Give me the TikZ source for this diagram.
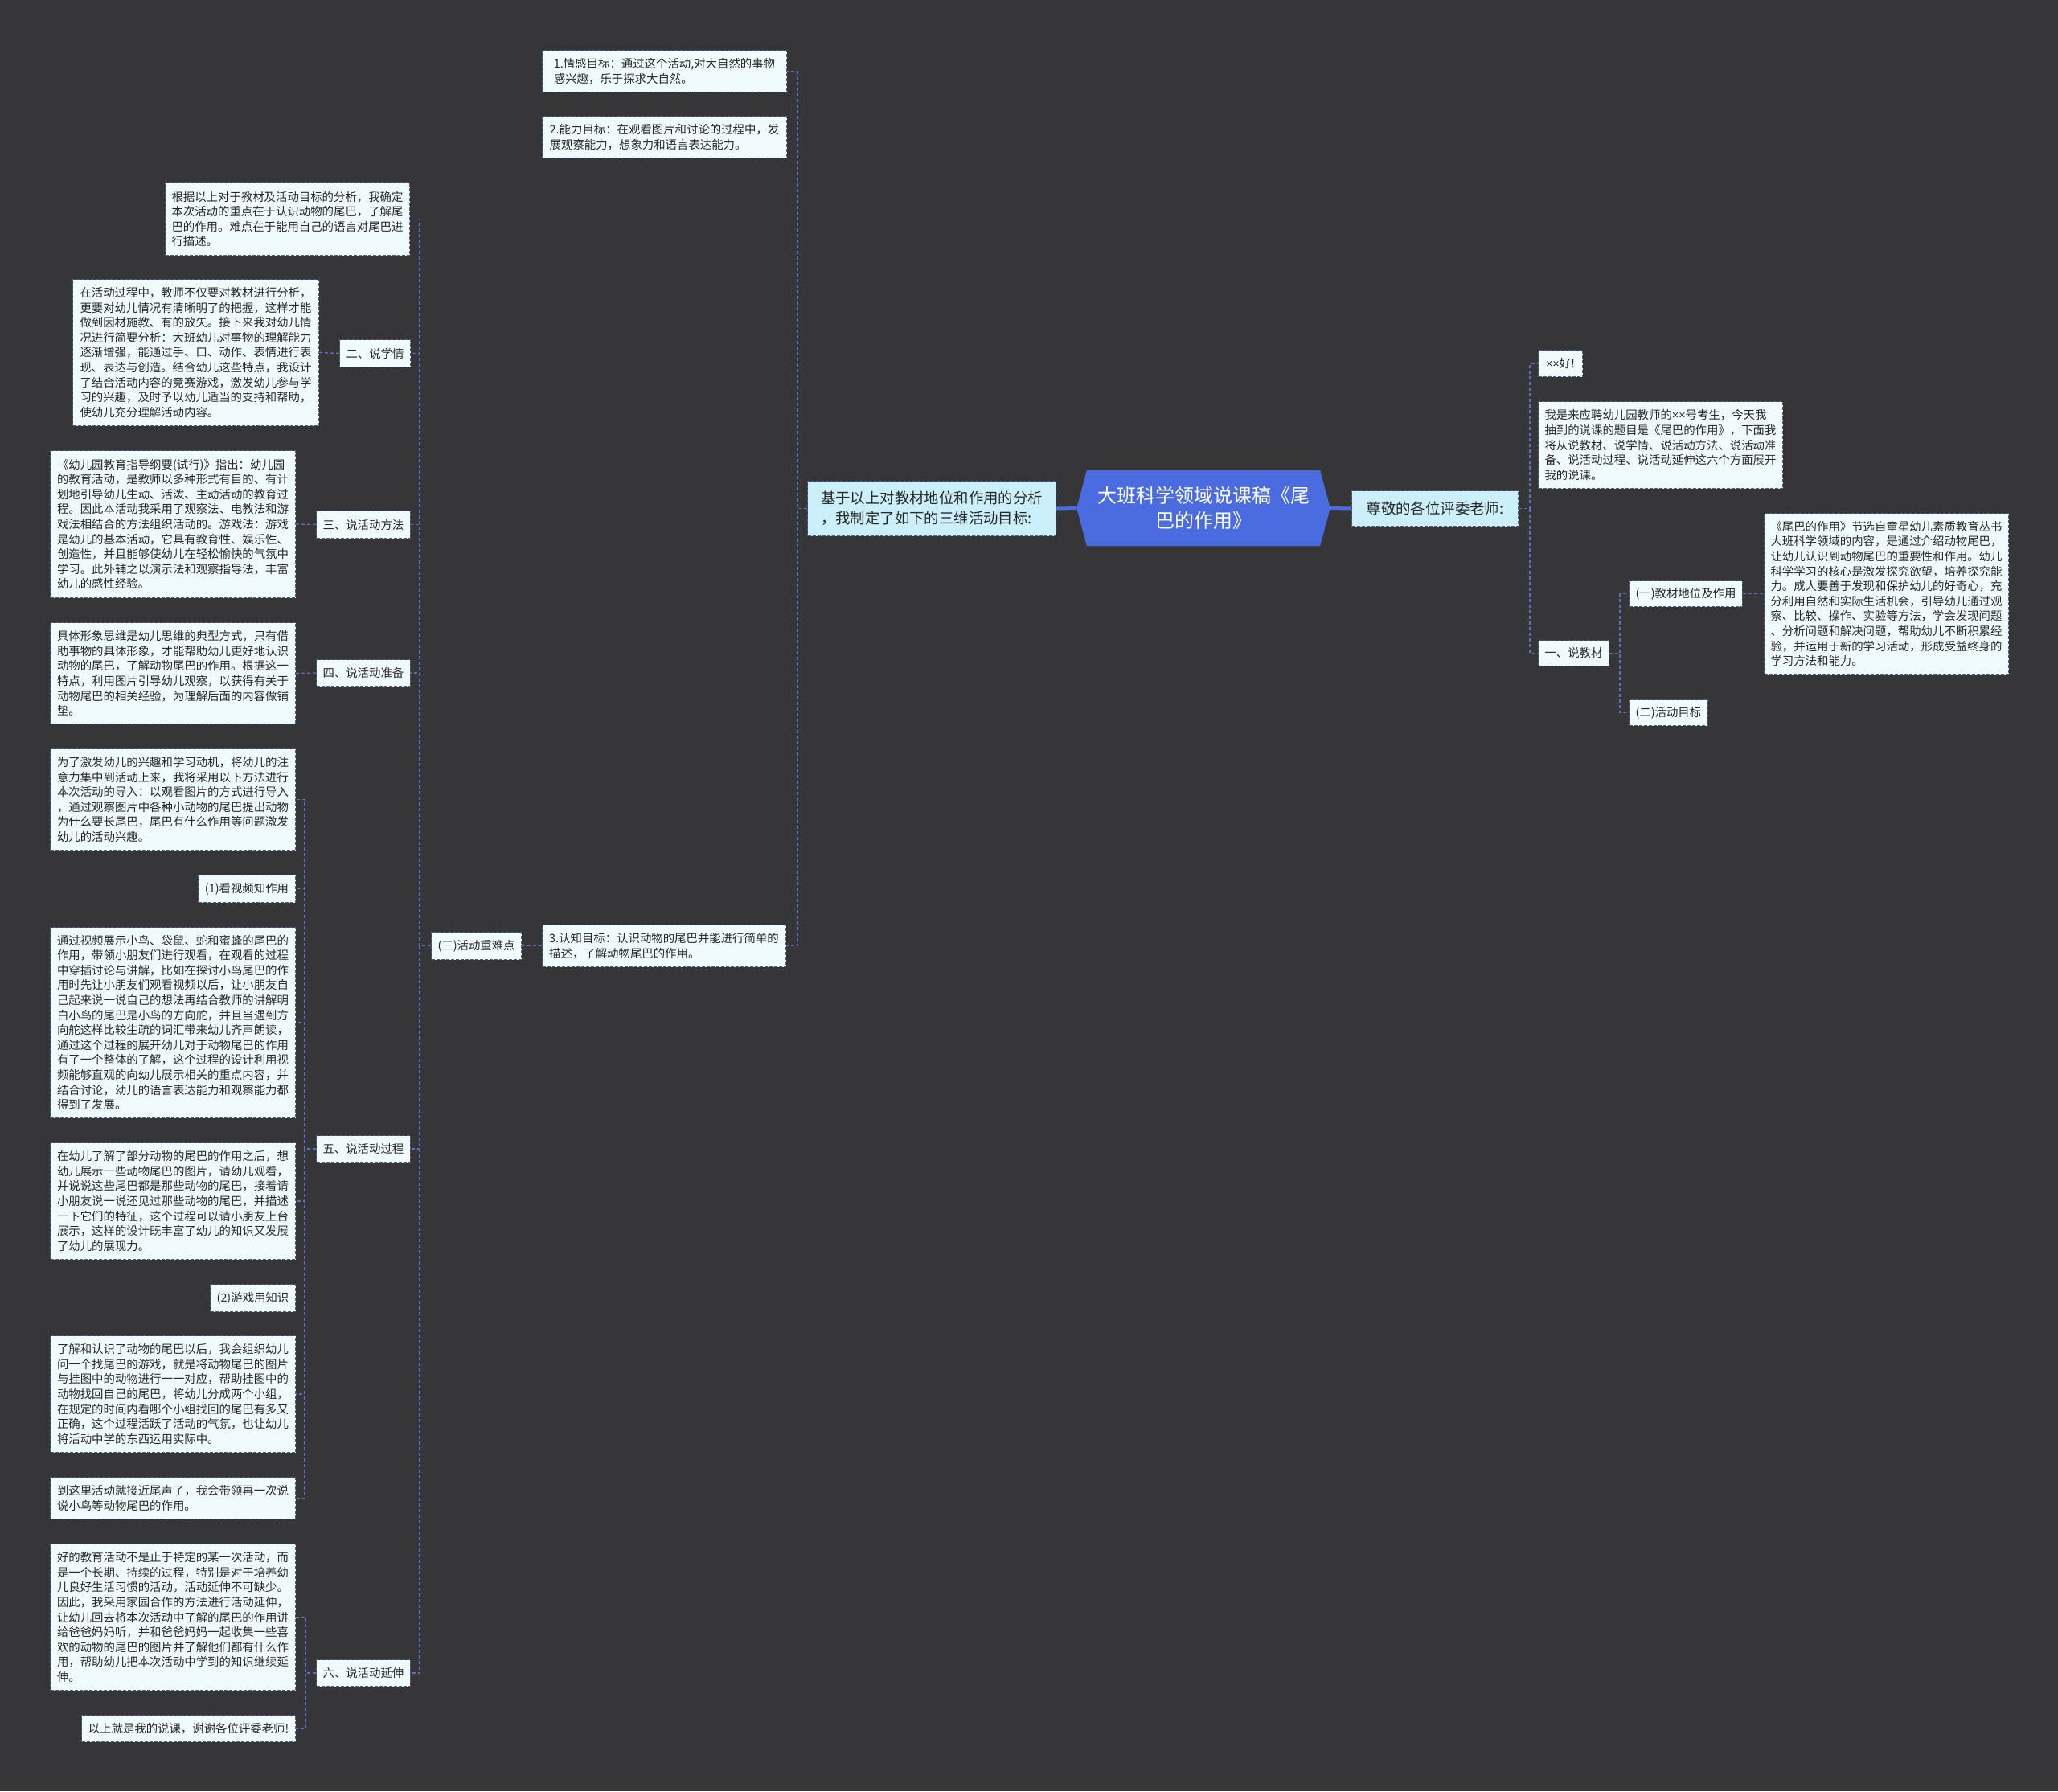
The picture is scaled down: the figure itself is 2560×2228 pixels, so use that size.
\documentclass[tikz,border=0pt]{standalone}
\usepackage{fontspec}
\setmainfont{Noto Sans CJK SC}
\newfontfamily\latinf{Liberation Sans}
\newcommand{\tms}{{\latinf ×}}
\usetikzlibrary{shapes.symbols}
\definecolor{bg}{RGB}{54,54,56}
\definecolor{boxfill}{RGB}{240,251,253}
\definecolor{lvfill}{RGB}{204,240,251}
\definecolor{bordc}{RGB}{80,92,140}
\definecolor{connc}{RGB}{88,112,200}
\definecolor{rootc}{RGB}{74,108,224}
\definecolor{txt}{RGB}{40,40,40}
\tikzset{
  box/.style={draw=bordc, dash pattern=on 4pt off 2pt, line width=1pt, fill=boxfill, text=txt,
    font=\fontsize{14.4}{18.6}\selectfont, inner xsep=8pt, inner ysep=6pt, align=left, anchor=north west},
  lvbox/.style={box, fill=lvfill, font=\fontsize{18.4}{25}\selectfont},
  conn/.style={draw=connc, line width=1.3pt, dash pattern=on 4pt off 3pt},
  rootconn/.style={draw=rootc, line width=4pt},
  sz/.style n args={2}{minimum width=#1, minimum height=#2}
}
\begin{document}
\begin{tikzpicture}[x=1pt,y=-1pt]
\fill[bg] (0,0) rectangle (2560,2228);
\useasboundingbox (0,0) rectangle (2560,2228);

% root
\node[shape=signal, signal to=east and west, signal pointer angle=150, fill=rootc, draw=rootc,
  text=white, font=\fontsize{24}{31}\selectfont, align=center, minimum width=315pt, minimum height=94pt, inner xsep=4pt]
  (root) at (1497,632) {大班科学领域说课稿《尾\\巴的作用》};

% level 1
\node[lvbox, sz={309pt}{68pt}] (jiyu) at (1004,598) {基于以上对教材地位和作用的分析\\，我制定了如下的三维活动目标:};
\node[lvbox, sz={207pt}{44pt}, align=center] (zj) at (1681,610) {尊敬的各位评委老师:};

% right side
\node[box, sz={55pt}{33pt}] (hao) at (1913,435) {\tms\tms 好!};
\node[box, sz={304pt}{108pt}] (woshi) at (1913,499) {我是来应聘幼儿园教师的\tms\tms 号考生，今天我\\抽到的说课的题目是《尾巴的作用》，下面我\\将从说教材、说学情、说活动方法、说活动准\\备、说活动过程、说活动延伸这六个方面展开\\我的说课。};
\node[box, sz={87pt}{32pt}] (jc) at (1913,796) {一、说教材};
\node[box, sz={140pt}{32pt}] (jc1) at (2026,722) {(一)教材地位及作用};
\node[box, sz={304pt}{200pt}] (jc1t) at (2194,638) {《尾巴的作用》节选自童星幼儿素质教育丛书\\大班科学领域的内容，是通过介绍动物尾巴，\\让幼儿认识到动物尾巴的重要性和作用。幼儿\\科学学习的核心是激发探究欲望，培养探究能\\力。成人要善于发现和保护幼儿的好奇心，充\\分利用自然和实际生活机会，引导幼儿通过观\\察、比较、操作、实验等方法，学会发现问题\\、分析问题和解决问题，帮助幼儿不断积累经\\验，并运用于新的学习活动，形成受益终身的\\学习方法和能力。};
\node[box, sz={97pt}{32pt}] (jc2) at (2026,870) {(二)活动目标};

% middle column
\node[box, sz={304pt}{52pt}] (m1) at (674,62) {1.情感目标：通过这个活动,对大自然的事物\\感兴趣，乐于探求大自然。};
\node[box, sz={304pt}{52pt}] (m2) at (674,144) {2.能力目标：在观看图片和讨论的过程中，发\\展观察能力，想象力和语言表达能力。};
\node[box, sz={303pt}{52pt}] (m3) at (674,1150) {3.认知目标：认识动物的尾巴并能进行简单的\\描述，了解动物尾巴的作用。};
\node[box, sz={111pt}{34pt}] (zn) at (536,1159) {(三)活动重难点};

% left column level
\node[box, sz={304pt}{90pt}] (gj) at (205,227) {根据以上对于教材及活动目标的分析，我确定\\本次活动的重点在于认识动物的尾巴，了解尾\\巴的作用。难点在于能用自己的语言对尾巴进\\行描述。};
\node[box, sz={87pt}{34pt}] (xq) at (422,422) {二、说学情};
\node[box, sz={115pt}{34pt}] (ff) at (393,635) {三、说活动方法};
\node[box, sz={115pt}{33pt}] (zb) at (393,820) {四、说活动准备};
\node[box, sz={115pt}{33pt}] (gc) at (393,1412) {五、说活动过程};
\node[box, sz={115pt}{33pt}] (yc) at (393,2064) {六、说活动延伸};

% leaves
\node[box, sz={306pt}{182pt}] (xqt) at (90,347) {在活动过程中，教师不仅要对教材进行分析，\\更要对幼儿情况有清晰明了的把握，这样才能\\做到因材施教、有的放矢。接下来我对幼儿情\\况进行简要分析：大班幼儿对事物的理解能力\\逐渐增强，能通过手、口、动作、表情进行表\\现、表达与创造。结合幼儿这些特点，我设计\\了结合活动内容的竞赛游戏，激发幼儿参与学\\习的兴趣，及时予以幼儿适当的支持和帮助，\\使幼儿充分理解活动内容。};
\node[box, sz={305pt}{183pt}] (fft) at (62,560) {《幼儿园教育指导纲要(试行)》指出：幼儿园\\的教育活动，是教师以多种形式有目的、有计\\划地引导幼儿生动、活泼、主动活动的教育过\\程。因此本活动我采用了观察法、电教法和游\\戏法相结合的方法组织活动的。游戏法：游戏\\是幼儿的基本活动，它具有教育性、娱乐性、\\创造性，并且能够使幼儿在轻松愉快的气氛中\\学习。此外辅之以演示法和观察指导法，丰富\\幼儿的感性经验。};
\node[box, sz={305pt}{126pt}] (zbt) at (62,774) {具体形象思维是幼儿思维的典型方式，只有借\\助事物的具体形象，才能帮助幼儿更好地认识\\动物的尾巴，了解动物尾巴的作用。根据这一\\特点，利用图片引导幼儿观察，以获得有关于\\动物尾巴的相关经验，为理解后面的内容做铺\\垫。};
\node[box, sz={305pt}{126pt}] (gc1) at (62,931) {为了激发幼儿的兴趣和学习动机，将幼儿的注\\意力集中到活动上来，我将采用以下方法进行\\本次活动的导入：以观看图片的方式进行导入\\，通过观察图片中各种小动物的尾巴提出动物\\为什么要长尾巴，尾巴有什么作用等问题激发\\幼儿的活动兴趣。};
\node[box, sz={121pt}{34pt}] (gc2) at (246,1088) {(1)看视频知作用};
\node[box, sz={305pt}{237pt}] (gc3) at (62,1153) {通过视频展示小鸟、袋鼠、蛇和蜜蜂的尾巴的\\作用，带领小朋友们进行观看，在观看的过程\\中穿插讨论与讲解，比如在探讨小鸟尾巴的作\\用时先让小朋友们观看视频以后，让小朋友自\\己起来说一说自己的想法再结合教师的讲解明\\白小鸟的尾巴是小鸟的方向舵，并且当遇到方\\向舵这样比较生疏的词汇带来幼儿齐声朗读，\\通过这个过程的展开幼儿对于动物尾巴的作用\\有了一个整体的了解，这个过程的设计利用视\\频能够直观的向幼儿展示相关的重点内容，并\\结合讨论，幼儿的语言表达能力和观察能力都\\得到了发展。};
\node[box, sz={305pt}{145pt}] (gc4) at (62,1421) {在幼儿了解了部分动物的尾巴的作用之后，想\\幼儿展示一些动物尾巴的图片，请幼儿观看，\\并说说这些尾巴都是那些动物的尾巴，接着请\\小朋友说一说还见过那些动物的尾巴，并描述\\一下它们的特征，这个过程可以请小朋友上台\\展示，这样的设计既丰富了幼儿的知识又发展\\了幼儿的展现力。};
\node[box, sz={106pt}{34pt}] (gc5) at (261,1597) {(2)游戏用知识};
\node[box, sz={305pt}{145pt}] (gc6) at (62,1661) {了解和认识了动物的尾巴以后，我会组织幼儿\\问一个找尾巴的游戏，就是将动物尾巴的图片\\与挂图中的动物进行一一对应，帮助挂图中的\\动物找回自己的尾巴，将幼儿分成两个小组，\\在规定的时间内看哪个小组找回的尾巴有多又\\正确，这个过程活跃了活动的气氛，也让幼儿\\将活动中学的东西运用实际中。};
\node[box, sz={305pt}{52pt}] (gc7) at (62,1837) {到这里活动就接近尾声了，我会带领再一次说\\说小鸟等动物尾巴的作用。};
\node[box, sz={305pt}{182pt}] (yc1) at (62,1920) {好的教育活动不是止于特定的某一次活动，而\\是一个长期、持续的过程，特别是对于培养幼\\儿良好生活习惯的活动，活动延伸不可缺少。\\因此，我采用家园合作的方法进行活动延伸，\\让幼儿回去将本次活动中了解的尾巴的作用讲\\给爸爸妈妈听，并和爸爸妈妈一起收集一些喜\\欢的动物的尾巴的图片并了解他们都有什么作\\用，帮助幼儿把本次活动中学到的知识继续延\\伸。};
\node[box, sz={266pt}{33pt}] (yc2) at (101,2133) {以上就是我的说课，谢谢各位评委老师!};

% root connectors
\draw[rootconn] (root.west) -- (jiyu.east);
\draw[rootconn] (root.east) -- (zj.west);

% right connectors
\foreach \c in {hao,woshi,jc} \draw[conn] (zj.east) -- ++(14,0) |- (\c.west);
\foreach \c in {jc1,jc2} \draw[conn] (jc.east) -- ++(13,0) |- (\c.west);
\draw[conn] (jc1.east) -- (jc1t.west);

% middle connectors
\foreach \c in {m1,m2,m3} \draw[conn] (jiyu.west) -- ++(-12,0) |- (\c.east);
\draw[conn] (m3.west) -- (zn.east);
\foreach \c in {gj,xq,ff,zb,gc,yc} \draw[conn] (zn.west) -- ++(-14,0) |- (\c.east);

% left connectors
\draw[conn] (xq.west) -- (xqt.east);
\draw[conn] (ff.west) -- (fft.east);
\draw[conn] (zb.west) -- (zbt.east);
\foreach \c in {gc1,gc2,gc3,gc4,gc5,gc6,gc7} \draw[conn] (gc.west) -- ++(-14,0) |- (\c.east);
\foreach \c in {yc1,yc2} \draw[conn] (yc.west) -- ++(-13,0) |- (\c.east);
\end{tikzpicture}
\end{document}
